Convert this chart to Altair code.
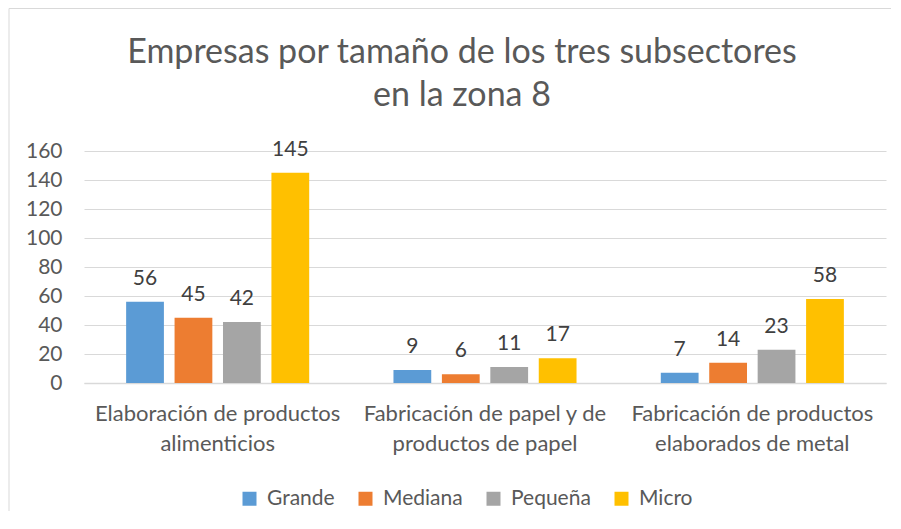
import altair as alt
import pandas as pd

categories = [
    "Elaboración de productos|alimenticios",
    "Fabricación de papel y de|productos de papel",
    "Fabricación de productos|elaborados de metal",
]
sizes = ["Grande", "Mediana", "Pequeña", "Micro"]
grande = [56, 9, 7]
mediana = [45, 6, 14]
pequena = [42, 11, 23]
micro = [145, 17, 58]
colors = ["#5B9BD5", "#ED7D31", "#A5A5A5", "#FFC000"]

rows = []
for series_name, vals in zip(sizes, [grande, mediana, pequena, micro]):
    for c, v in zip(categories, vals):
        rows.append({"cat": c, "size": series_name, "value": v})
df = pd.DataFrame(rows)

FONT = "Lato"
TXT = "#595959"

x = alt.X("cat:N", sort=categories, title=None,
          scale=alt.Scale(paddingInner=0, paddingOuter=0),
          axis=alt.Axis(labelExpr="split(datum.label, '|')", labelAngle=0,
                        labelFontSize=22, labelColor=TXT, labelFont=FONT,
                        labelLineHeight=30, labelPadding=20, labelBaseline="top",
                        labelOverlap=False, labelLimit=0, ticks=False,
                        domainColor="#D9D9D9", domainWidth=1.5))
xo = alt.XOffset("size:N", sort=sizes,
                 scale=alt.Scale(paddingInner=0.22, paddingOuter=0.87))
y = alt.Y("value:Q", title=None,
          scale=alt.Scale(domain=[0, 160], nice=False),
          axis=alt.Axis(values=list(range(0, 161, 20)), domain=False, ticks=False,
                        labelFontSize=21, labelColor=TXT, labelFont=FONT,
                        labelPadding=22, gridColor="#D9D9D9", gridWidth=1))

bars = alt.Chart(df).mark_bar().encode(
    x=x, xOffset=xo, y=y,
    color=alt.Color("size:N", sort=sizes,
                    scale=alt.Scale(domain=sizes, range=colors),
                    legend=alt.Legend(title=None, orient="none", direction="horizontal",
                                      legendX=155, legendY=337,
                                      symbolType="square", symbolSize=196,
                                      symbolStrokeWidth=0, labelFontSize=21,
                                      labelFont=FONT, labelColor=TXT,
                                      labelOffset=7, columnPadding=20)),
)

labels = alt.Chart(df).mark_text(fontSize=21, font=FONT, color="#404040",
                                 baseline="alphabetic", dy=-17).encode(
    x=x, xOffset=xo, y=y, text=alt.Text("value:Q"),
)

border = alt.Chart(pd.DataFrame({"k": [0]})).mark_rect(
    fill=None, stroke="#D9D9D9", strokeWidth=1).encode(
    x=alt.value(-75), x2=alt.value(900), y=alt.value(-142.5), y2=alt.value(500))

chart = alt.layer(border, bars, labels).properties(
    width=802, height=232,
    title=alt.TitleParams(
        text=["Empresas por tamaño de los tres subsectores", "en la zona 8"],
        fontSize=34, font=FONT, color=TXT, fontWeight="normal",
        anchor="middle", lineHeight=43, offset=-105, dx=-23),
    autosize=alt.AutoSizeParams(type="none"),
    padding={"left": 76, "top": 143, "right": 5, "bottom": 128},
).configure_view(stroke=None)

chart.save("out.html", embed_options={"renderer": "svg", "actions": False})
